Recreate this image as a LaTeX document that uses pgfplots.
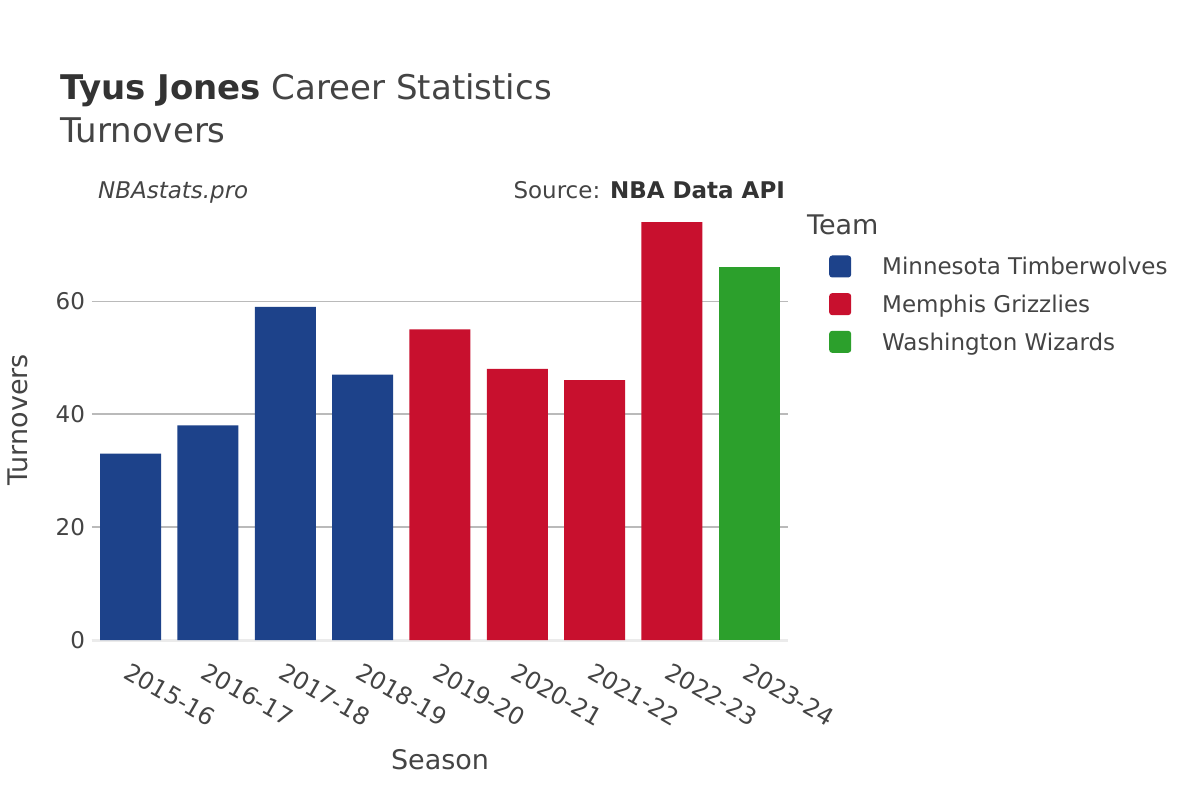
\documentclass[border=0pt]{standalone}
\usepackage{pgfplots}
\pgfplotsset{compat=1.18}
\usepackage{fontspec}
\setmainfont{DejaVu Sans}
\definecolor{twolves}{RGB}{29,66,138}
\definecolor{grizz}{RGB}{200,16,46}
\definecolor{wiz}{RGB}{44,160,44}
\definecolor{txt}{RGB}{68,68,68}
\definecolor{ttl}{RGB}{51,51,51}
\begin{document}
\begin{tikzpicture}
\path[fill=white] (-46pt,-80pt) rectangle (554pt,320pt);
\begin{axis}[
  width=348pt, height=220pt, scale only axis,
  xmin=-0.5, xmax=8.5, ymin=0, ymax=77.9,
  ybar, bar width=30.5pt, bar shift=0pt,
  axis line style={draw=none}, tick style={draw=none},
  ymajorgrids, grid style={color=black!27, line width=0.6pt},
  ytick={0,20,40,60},
  xtick={0,...,8},
  xticklabels={2015-16,2016-17,2017-18,2018-19,2019-20,2020-21,2021-22,2022-23,2023-24},
  x tick label style={rotate=-30, anchor=north west, font=\fontsize{12}{13}\selectfont, text=txt, xshift=0pt, yshift=-2pt},
  y tick label style={font=\fontsize{11.5}{12}\selectfont, text=txt},
  /pgf/number format/assume math mode=true,
  legend style={at={(rel axis cs:1.05,0.889)}, anchor=north west, draw=none, fill=none,
    font=\fontsize{11.5}{13}\selectfont, text=txt, row sep=4.6pt,
    legend cell align=left},
  legend image code/.code={\fill[#1, rounded corners=1.5pt] (0pt,-5pt) rectangle (11pt,6pt);},
  clip=false,
]
\draw[black!8, line width=1.5pt] (axis cs:-0.5,0) -- (axis cs:8.5,0);
\addplot[fill=twolves, draw=none] coordinates {(0,33) (1,38) (2,59) (3,47)};
\addlegendentry{\hspace{13.5pt}Minnesota Timberwolves}
\addplot[fill=grizz, draw=none] coordinates {(4,55) (5,48) (6,46) (7,74)};
\addlegendentry{\hspace{13.5pt}Memphis Grizzlies}
\addplot[fill=wiz, draw=none] coordinates {(8,66)};
\addlegendentry{\hspace{13.5pt}Washington Wizards}
\end{axis}
\node[anchor=base west, text=ttl, font=\fontsize{17}{18}\selectfont] at (-19.5pt,270pt) {\textbf{Tyus Jones} \color{txt}Career Statistics};
\node[anchor=base west, text=txt, font=\fontsize{17}{18}\selectfont] at (-19.5pt,248.5pt) {Turnovers};
\node[anchor=base west, text=txt, font=\fontsize{11.5}{13}\selectfont\itshape] at (-0.5pt,221pt) {NBAstats.pro};
\node[anchor=base east, text=txt, font=\fontsize{11.5}{13}\selectfont] at (350pt,221pt) {Source: \textbf{\color{ttl}NBA Data API}};
\node[anchor=base west, text=txt, font=\fontsize{13.5}{14}\selectfont] at (354pt,203pt) {Team};
\node[rotate=90, text=txt, font=\fontsize{13.5}{14}\selectfont] at (-37pt,110pt) {Turnovers};
\node[text=txt, font=\fontsize{13.5}{14}\selectfont] at (174pt,-60pt) {Season};
\end{tikzpicture}
\end{document}
